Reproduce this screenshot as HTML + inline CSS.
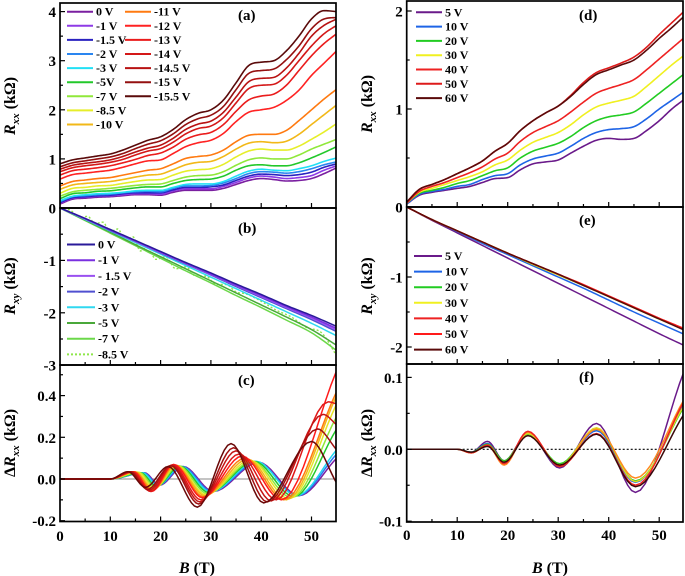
<!DOCTYPE html>
<html><head><meta charset="utf-8">
<style>
html,body{margin:0;padding:0;background:#fff;}
svg{display:block;font-family:"Liberation Serif",serif;font-weight:bold;}
</style></head>
<body>
<svg id="fig" width="685" height="576" viewBox="0 0 685 576" xmlns="http://www.w3.org/2000/svg"></svg>
<script>
// ---------- data ----------
const xTicks = [0,10,20,30,40,50];
const gridA = [0,2.5,5,7.5,10,12.5,15,17.5,20,22.5,25,27.5,30,32.5,35,37.5,40,42.5,45,47.5,50,52.5,55];
const gatesA = ["0 V","-1 V","-1.5 V","-2 V","-3 V","-5V","-7 V","-8.5 V","-10 V","-11 V","-12 V","-13 V","-14 V","-14.5 V","-15 V","-15.5 V"];
const colorsA = ["#7a1fa0","#8e3ae6","#2a22c0","#2a86f0","#22e0f5","#22c82a","#90e83a","#e6ee2a","#f2b818","#ff7a10","#ff2222","#ea1c1c","#d41818","#b81212","#941010","#5a0a0a"];
const rxxA_0 = [.08,.18,.20,.22,.23,.25,.27,.27,.26,.32,.36,.36,.36,.40,.48,.56,.60,.58,.55,.56,.60,.70,.82];
const rxxA_1 = [.10,.20,.22,.24,.25,.27,.29,.29,.28,.35,.39,.39,.39,.44,.52,.61,.65,.63,.60,.62,.66,.77,.86];
const rxxA_15 = [.11,.21,.23,.25,.26,.29,.31,.31,.31,.37,.42,.42,.43,.47,.56,.65,.69,.68,.66,.68,.73,.83,.90];
const rxxA_2 = [.13,.23,.25,.27,.28,.31,.33,.34,.33,.40,.45,.45,.46,.51,.60,.70,.74,.73,.71,.74,.80,.88,.94];
const rxxA_3 = [.15,.24,.27,.29,.30,.32,.35,.36,.36,.42,.48,.49,.49,.54,.65,.75,.79,.77,.76,.80,.86,.95,1.02];
const rxxA_5 = [.19,.29,.31,.34,.35,.38,.41,.43,.43,.50,.56,.58,.59,.65,.77,.86,.88,.86,.86,.92,1.02,1.13,1.25];
const rxxA_7 = [.24,.33,.36,.38,.40,.43,.46,.48,.49,.56,.63,.66,.67,.74,.87,.98,1.02,1.0,1.0,1.08,1.2,1.3,1.40];
const rxxA_85 = [.30,.40,.42,.45,.46,.50,.54,.57,.58,.67,.75,.78,.80,.89,1.04,1.16,1.2,1.18,1.18,1.26,1.4,1.55,1.72];
const rxxA_10 = [.38,.47,.50,.52,.54,.58,.63,.67,.69,.78,.88,.93,.95,1.05,1.2,1.32,1.35,1.33,1.36,1.5,1.7,1.9,2.1];
const rxxA_11 = [.45,.54,.57,.60,.62,.67,.72,.77,.80,.90,1.01,1.05,1.08,1.18,1.35,1.48,1.5,1.5,1.58,1.78,2.0,2.22,2.42];
const rxxA_12 = [.59,.68,.71,.74,.77,.83,.90,.96,.98,1.11,1.25,1.33,1.38,1.52,1.76,1.95,2.0,2.05,2.19,2.4,2.7,2.95,3.2];
const rxxA_13 = [.67,.76,.79,.82,.86,.92,.99,1.07,1.12,1.24,1.40,1.49,1.54,1.70,1.97,2.2,2.28,2.32,2.5,2.8,3.1,3.35,3.55];
const rxxA_14 = [.74,.82,.86,.89,.93,.99,1.08,1.16,1.21,1.34,1.51,1.62,1.67,1.84,2.14,2.43,2.50,2.52,2.7,3.0,3.3,3.55,3.72];
const rxxA_145 = [.79,.87,.91,.94,.98,1.05,1.14,1.22,1.28,1.42,1.60,1.71,1.77,1.95,2.26,2.57,2.64,2.66,2.85,3.15,3.5,3.72,3.85];
const rxxA_15v = [.84,.92,.96,1.00,1.04,1.11,1.21,1.30,1.37,1.51,1.70,1.82,1.89,2.07,2.41,2.74,2.80,2.83,3.02,3.3,3.65,3.85,3.88];
const rxxA_155 = [.90,.98,1.02,1.06,1.10,1.18,1.28,1.38,1.45,1.60,1.80,1.93,2.00,2.20,2.55,2.90,2.97,3.00,3.20,3.50,3.85,4.02,4.00];
const seriesA = [rxxA_0,rxxA_1,rxxA_15,rxxA_2,rxxA_3,rxxA_5,rxxA_7,rxxA_85,rxxA_10,rxxA_11,rxxA_12,rxxA_13,rxxA_14,rxxA_145,rxxA_15v,rxxA_155];

const gridB = [0,5,10,15,20,25,30,35,40,45,50,55];
const gatesB = ["0 V","-1 V","- 1.5 V","-2 V","-3 V","-5 V","-7 V","-8.5 V"];
const colorsB = ["#2a1a9a","#7a30e0","#9a50f0","#5050d0","#30d8f0","#4aa83a","#6cd84a","#8ee64a"];
const rxyB_0 = [0,-.2,-.41,-.62,-.83,-1.04,-1.24,-1.45,-1.65,-1.86,-2.05,-2.26];
const rxyB_1 = [0,-.2,-.42,-.63,-.84,-1.05,-1.26,-1.47,-1.67,-1.88,-2.08,-2.30];
const rxyB_15 = [0,-.21,-.42,-.64,-.85,-1.06,-1.27,-1.48,-1.69,-1.9,-2.1,-2.33];
const rxyB_2 = [0,-.21,-.43,-.64,-.86,-1.07,-1.28,-1.5,-1.71,-1.92,-2.13,-2.36];
const rxyB_3 = [0,-.22,-.44,-.66,-.88,-1.1,-1.32,-1.54,-1.76,-1.98,-2.2,-2.44];
const rxyB_5 = [0,-.23,-.46,-.7,-.93,-1.16,-1.39,-1.62,-1.85,-2.08,-2.32,-2.62];
const rxyB_7 = [0,-.24,-.48,-.72,-.96,-1.2,-1.43,-1.67,-1.9,-2.14,-2.38,-2.72];
const seriesB = [rxyB_0,rxyB_1,rxyB_15,rxyB_2,rxyB_3,rxyB_5,rxyB_7];
const gridB85 = [0,2,4,5.5,7,8.5,10,11.5,13,14.5,16,17.5,19,21,23,25,27,29,31,33,35,37,40,43,46,49,52,55];
const rxyB_85 = [0,-.04,-.18,-.16,-.3,-.27,-.45,-.4,-.62,-.55,-.82,-.74,-.98,-.93,-1.16,-1.12,-1.3,-1.3,-1.46,-1.46,-1.6,-1.64,-1.78,-1.95,-2.08,-2.28,-2.38,-2.82];

// panel (c): extremum points (B, value) per curve
const colorsC = ["#7a1fa0","#2a78f0","#22d8f0","#22c82a","#90e83a","#e6e62a","#f2b818","#ff7a10","#ff1a1a","#e01818","#c41414","#a01010","#6a0808"];
const dB_c0 = [0,10,16.8,19.8,24.5,30.5,39.5,47.5,55];
const dV_c0 = [0,0,.03,-.03,.06,-.06,.08,-.08,.10];
const dB_c1 = [0,10,16.6,19.6,24.3,30.2,39.2,47.2,55];
const dV_c1 = [0,0,.03,-.03,.06,-.06,.08,-.08,.12];
const dB_c2 = [0,10,16.4,19.4,24,30,39,47,55];
const dV_c2 = [0,0,.03,-.03,.06,-.062,.085,-.08,.14];
const dB_c3 = [0,10,16,19.2,23.8,29.6,38.6,46.5,55];
const dV_c3 = [0,0,.03,-.035,.062,-.065,.085,-.085,.24];
const dB_c4 = [0,10,15.7,19,23.5,29.3,38.2,46,55];
const dV_c4 = [0,0,.032,-.04,.064,-.07,.085,-.09,.30];
const dB_c5 = [0,10,15.4,18.8,23.2,29,37.8,45.5,55];
const dV_c5 = [0,0,.033,-.045,.065,-.075,.09,-.095,.36];
const dB_c6 = [0,10,15,18.6,23,28.8,37.3,45,55];
const dV_c6 = [0,0,.034,-.05,.066,-.08,.095,-.1,.40];
const dB_c7 = [0,10,14.8,18.4,22.8,28.5,36.8,44.5,55];
const dV_c7 = [0,0,.035,-.055,.068,-.085,.1,-.1,.42];
const dB_c8 = [0,10,14.6,18.2,22.6,28.3,36.2,44,55];
const dV_c8 = [0,0,.035,-.06,.07,-.09,.11,-.1,.52];
const dB_c9 = [0,10,14.3,18,22.4,28,35.6,43,53.3,55];
const dV_c9 = [0,0,.035,-.06,.068,-.1,.12,-.1,.37,.36];
const dB_c10 = [0,10,14.1,17.7,22.2,27.8,35,42,52.3,55];
const dV_c10 = [0,0,.035,-.055,.066,-.11,.135,-.105,.31,.26];
const dB_c11 = [0,10,13.9,17.4,22,27.6,34.5,41.2,51.2,55];
const dV_c11 = [0,0,.035,-.05,.064,-.12,.15,-.11,.24,.14];
const dB_c12 = [0,10,13.5,17,21.5,27.3,34,40.5,50,55];
const dV_c12 = [0,0,.035,-.04,.06,-.135,.17,-.115,.18,-.02];
const seriesCB = [dB_c0,dB_c1,dB_c2,dB_c3,dB_c4,dB_c5,dB_c6,dB_c7,dB_c8,dB_c9,dB_c10,dB_c11,dB_c12];
const seriesCV = [dV_c0,dV_c1,dV_c2,dV_c3,dV_c4,dV_c5,dV_c6,dV_c7,dV_c8,dV_c9,dV_c10,dV_c11,dV_c12];

// right side
const gatesD = ["5 V","10 V","20 V","30 V","40 V","50 V","60 V"];
const colorsD = ["#6a1a8a","#1e64e6","#22cc22","#f0f020","#ee2222","#dd1a1a","#5a0a0a"];
const rxxD_5 = [.03,.12,.15,.17,.19,.21,.25,.29,.30,.38,.44,.46,.48,.55,.62,.68,.70,.69,.70,.78,.88,1.0,1.1];
const rxxD_10 = [.03,.13,.16,.18,.21,.23,.28,.32,.34,.43,.49,.52,.55,.62,.70,.76,.79,.80,.82,.90,1.0,1.09,1.18];
const rxxD_20 = [.04,.14,.17,.20,.24,.27,.32,.37,.40,.50,.57,.61,.65,.72,.81,.88,.92,.94,.97,1.06,1.16,1.26,1.36];
const rxxD_30 = [.04,.15,.19,.23,.27,.31,.36,.43,.48,.58,.66,.71,.76,.84,.94,1.02,1.06,1.09,1.13,1.23,1.34,1.45,1.55];
const rxxD_40 = [.04,.16,.21,.25,.30,.35,.41,.49,.55,.67,.76,.82,.88,.97,1.07,1.16,1.21,1.25,1.30,1.40,1.51,1.62,1.73];
const rxxD_50 = [.05,.18,.23,.28,.34,.40,.47,.57,.65,.78,.88,.96,1.03,1.14,1.27,1.37,1.42,1.47,1.53,1.63,1.76,1.88,2.0];
const rxxD_60 = [.05,.18,.23,.28,.34,.40,.47,.57,.65,.78,.88,.96,1.03,1.13,1.25,1.35,1.40,1.45,1.50,1.60,1.72,1.83,1.95];
const seriesD = [rxxD_5,rxxD_10,rxxD_20,rxxD_30,rxxD_40,rxxD_50,rxxD_60];

const colorsE = ["#6a1a8a","#1e64e6","#22cc22","#f0f020","#ee2222","#ff1a1a","#5a0a0a"];
const rxyE_5 = [0,-.19,-.37,-.55,-.73,-.91,-1.09,-1.27,-1.45,-1.63,-1.81,-1.98];
const rxyE_10 = [0,-.18,-.35,-.52,-.68,-.84,-1.0,-1.16,-1.33,-1.5,-1.66,-1.82];
const rxyE_20 = [0,-.18,-.34,-.5,-.66,-.82,-.97,-1.12,-1.28,-1.44,-1.6,-1.75];
const rxyE_30 = [0,-.18,-.34,-.5,-.66,-.82,-.97,-1.12,-1.28,-1.44,-1.6,-1.75];
const rxyE_40 = [0,-.18,-.34,-.5,-.66,-.81,-.96,-1.11,-1.27,-1.43,-1.59,-1.74];
const rxyE_50 = [0,-.18,-.34,-.5,-.66,-.81,-.96,-1.11,-1.27,-1.43,-1.59,-1.74];
const rxyE_60 = [0,-.18,-.34,-.5,-.66,-.81,-.96,-1.12,-1.28,-1.44,-1.6,-1.76];
const seriesE = [rxyE_5,rxyE_10,rxyE_20,rxyE_30,rxyE_40,rxyE_50,rxyE_60];

const colorsF = ["#6a1a8a","#1e64e6","#22cc22","#e0d820","#ff8a20","#ee2222","#3a0808"];
const dB_f = [0,10,12.8,16,19.3,24,30.3,37.6,45.3,55];
const dV_f5 = [0,0,-.004,.011,-.016,.022,-.026,.036,-.06,.11];
const dV_f10 = [0,0,-.004,.008,-.017,.022,-.024,.026,-.046,.065];
const dV_f20 = [0,0,-.004,.007,-.016,.021,-.02,.028,-.044,.06];
const dV_f30 = [0,0,-.005,.006,-.018,.022,-.022,.03,-.045,.062];
const dV_f40 = [0,0,-.005,.005,-.022,.024,-.023,.028,-.04,.07];
const dV_f50 = [0,0,-.005,.006,-.02,.025,-.024,.022,-.05,.068];
const dV_f60 = [0,0,-.004,.004,-.018,.019,-.022,.021,-.052,.05];
const seriesF = [dV_f5,dV_f10,dV_f20,dV_f30,dV_f40,dV_f50,dV_f60];

// ---------- drawing ----------
const NS = "http://www.w3.org/2000/svg";
const svg = document.getElementById('fig');
function mk(tag, attrs, parent){ const e=document.createElementNS(NS,tag); for(const k in attrs) e.setAttribute(k,attrs[k]); (parent||svg).appendChild(e); return e; }

const xL = b => 60 + b*5.03;
const xR = b => 406.7 + b*5.05;
const yA = v => 208 - v*49.1;
const yB = v => 208 - v*52.4;
const yC = v => 479 - v*208.5;
const yD = v => 207 - v*98;
const yE = v => 207 - v*70;
const yF = v => 449.3 - v*719;

function monoPath(xs, ys, fx, fy){
  const n=xs.length, m=[], d=[];
  for(let i=0;i<n-1;i++) d.push((ys[i+1]-ys[i])/(xs[i+1]-xs[i]));
  m[0]=d[0]; m[n-1]=d[n-2];
  for(let i=1;i<n-1;i++){ m[i]=(d[i-1]*d[i]<=0)?0:(d[i-1]+d[i])/2; }
  for(let i=0;i<n-1;i++){ if(d[i]===0){m[i]=0;m[i+1]=0;continue;} const a=m[i]/d[i], b=m[i+1]/d[i], s=a*a+b*b; if(s>9){const t=3/Math.sqrt(s); m[i]=t*a*d[i]; m[i+1]=t*b*d[i];} }
  let p="M"+fx(xs[0]).toFixed(2)+","+fy(ys[0]).toFixed(2);
  for(let i=0;i<n-1;i++){ const h=xs[i+1]-xs[i];
    for(let k=1;k<=10;k++){ const t=k/10,t2=t*t,t3=t2*t;
      const v=(2*t3-3*t2+1)*ys[i]+(t3-2*t2+t)*h*m[i]+(-2*t3+3*t2)*ys[i+1]+(t3-t2)*h*m[i+1];
      p+="L"+fx(xs[i]+t*h).toFixed(2)+","+fy(v).toFixed(2);} }
  return p;
}

const defs = mk('defs',{});
function clip(id,x,y,w,h){ const c=mk('clipPath',{id:id},defs); mk('rect',{x:x,y:y,width:w,height:h},c); }
clip('cA',60,3,276,205); clip('cB',60,208,276,157); clip('cC',60,365,276,157);
clip('cD',406.7,1,276.3,206); clip('cE',406.7,207,276.3,157); clip('cF',406.7,364,276.3,158);

function group(name, cl){ const g=mk('g',{'clip-path':'url(#'+cl+')'});   return g; }

// (a)
let g = group('panel-a-curves','cA');
seriesA.forEach((s,i)=>{ const p=mk('path',{d:monoPath(gridA,s,xL,yA),fill:'none',stroke:colorsA[i],'stroke-width':1.6},g);
  
   });
// (b)
g = group('panel-b-curves','cB');
{ const p=mk('path',{d:monoPath(gridB85,rxyB_85,xL,yB),fill:'none',stroke:colorsB[7],'stroke-width':1.4,'stroke-dasharray':'2,2'},g);
  
   }
seriesB.slice().reverse().forEach((s,j)=>{ const i=seriesB.length-1-j; const p=mk('path',{d:monoPath(gridB,s,xL,yB),fill:'none',stroke:colorsB[i],'stroke-width':1.5},g);
  
   });
// (c)
g = group('panel-c-curves','cC');
{ const z=mk('line',{x1:60,x2:336,y1:yC(0),y2:yC(0),stroke:'#888','stroke-width':1},g);
  
   }
seriesCV.forEach((s,i)=>{ const p=mk('path',{d:monoPath(seriesCB[i],s,xL,yC),fill:'none',stroke:colorsC[i],'stroke-width':1.5},g);
  
   });
// (d)
g = group('panel-d-curves','cD');
seriesD.forEach((s,i)=>{ const p=mk('path',{d:monoPath(gridA,s,xR,yD),fill:'none',stroke:colorsD[i],'stroke-width':1.6},g);
  
   });
// (e)
g = group('panel-e-curves','cE');
seriesE.forEach((s,i)=>{ const p=mk('path',{d:monoPath(gridB,s,xR,yE),fill:'none',stroke:colorsE[i],'stroke-width':1.5},g);
  
   });
// (f)
g = group('panel-f-curves','cF');
{ const z=mk('line',{x1:406.7,x2:683,y1:yF(0),y2:yF(0),stroke:'#000','stroke-width':1.2,'stroke-dasharray':'2,2'},g);
  
   }
seriesF.forEach((s,i)=>{ const p=mk('path',{d:monoPath(dB_f,s,xR,yF),fill:'none',stroke:colorsF[i],'stroke-width':1.5},g);
  
   });

// axes
function frame(x0,x1,y0,y1,name){ const r=mk('rect',{x:x0,y:y0,width:x1-x0,height:y1-y0,fill:'none',stroke:'#000','stroke-width':1.7});
  
   }
frame(60,336,3,208,'panel-a-frame'); frame(60,336,208,365,'panel-b-frame'); frame(60,336,365,521.5,'panel-c-frame');
frame(406.7,683,1,207,'panel-d-frame'); frame(406.7,683,207,364,'panel-e-frame'); frame(406.7,683,364,522,'panel-f-frame');

function xticks(fx, ybot){ for(let b=5;b<55;b+=5){ const L=(b%10===0)?5:3; const x=fx(b);
  mk('line',{x1:x,x2:x,y1:ybot,y2:ybot-L,stroke:'#000','stroke-width':1.2}); } }
[208,365,521.5].forEach(y=>xticks(xL,y)); [207,364,522].forEach(y=>xticks(xR,y));

function text(str,x,y,size,anchor,name,extra){ const t=mk('text',Object.assign({x:x,y:y,'font-size':size,'text-anchor':anchor||'start',fill:'#000'},extra||{}));
  t.textContent=str;
  
   return t; }

function yaxis(x0, fy, majors, labels, minors, name){
  majors.forEach((v,i)=>{ const y=fy(v); mk('line',{x1:x0,x2:x0+5,y1:y,y2:y,stroke:'#000','stroke-width':1.2});
    if(labels[i]!==null) text(labels[i],x0-4,y+5.5,15,'end',name+'-tick-label'); });
  minors.forEach(v=>{ const y=fy(v); mk('line',{x1:x0,x2:x0+3,y1:y,y2:y,stroke:'#000','stroke-width':1.2}); });
}
const ticksA=[0,1,2,3,4], labA=["0","1","2","3","4"];
const ticksB=[-1,-2,-3], labB=["-1","-2","-3"];
const ticksC=[-0.2,0,0.2,0.4], labC=["-0.2","0.0","0.2","0.4"];
const ticksD=[0,1,2], labD=["0","1","2"];
const ticksE=[-1,-2], labE=["-1","-2"];
const ticksF=[-0.1,0,0.1], labF=["-0.1","0.0","0.1"];
yaxis(60,yA,ticksA,labA,[.5,1.5,2.5,3.5],'a');
yaxis(60,yB,ticksB,labB,[-.5,-1.5,-2.5],'b');
yaxis(60,yC,ticksC,labC,[-.1,.1,.3,.5],'c');
yaxis(406.7,yD,ticksD,labD,[.5,1.5],'d');
yaxis(406.7,yE,ticksE,labE,[-.5,-1.5],'e');
yaxis(406.7,yF,ticksF,labF,[-.05,.05],'f');

xTicks.forEach(b=>{ text(String(b),xL(b),541,15,'middle','x-tick-label-left'); text(String(b),xR(b),540,15,'middle','x-tick-label-right'); });

function btitle(x,y,name){ const t=mk('text',{x:x,y:y,'font-size':16,'text-anchor':'middle'}); t.innerHTML='<tspan font-style="italic">B</tspan> (T)';
  
   }
btitle(197,573,'x-axis-title-left'); btitle(550,573,'x-axis-title-right');

function ytitle(x,y,sub,name,delta){ const t=mk('text',{x:0,y:0,'font-size':16,'text-anchor':'middle',transform:'translate('+x+','+y+') rotate(-90)'});
  t.innerHTML=(delta?'Δ':'')+'<tspan font-style="italic">R</tspan><tspan font-size="11" dy="4" font-style="italic">'+sub+'</tspan><tspan dy="-4"> (kΩ)</tspan>';
  
   }
ytitle(15,106,'xx','y-axis-title-a'); ytitle(15,286,'xy','y-axis-title-b'); ytitle(15,443,'xx','y-axis-title-c',true);
ytitle(372,104,'xx','y-axis-title-d'); ytitle(372,286,'xy','y-axis-title-e'); ytitle(372,443,'xx','y-axis-title-f',true);

text('(a)',238,20,15,'start','panel-label-a'); text('(b)',238,233,15,'start','panel-label-b'); text('(c)',238,385,15,'start','panel-label-c');
text('(d)',579,20,15,'start','panel-label-d'); text('(e)',579,225,15,'start','panel-label-e'); text('(f)',579,382,15,'start','panel-label-f');

// legends
function legendEntry(x0,x1,y,color,label,dash,name){ const l=mk('line',{x1:x0,x2:x1,y1:y,y2:y,stroke:color,'stroke-width':2});
  if(dash) l.setAttribute('stroke-dasharray','2,2');
  
  
  text(label,x1+3,y+4,12,'start',name); }
gatesA.forEach((gl,i)=>{ if(i<9) legendEntry(67,93,11.7+i*14.1,colorsA[i],gl,false,'legend-entry-a');
  else legendEntry(125,151,11.7+(i-9)*14.1,colorsA[i],gl,false,'legend-entry-a'); });
gatesB.forEach((gl,i)=>{ legendEntry(67,95,244.5+i*15.7,colorsB[i],gl,i===7,'legend-entry-b'); });
gatesD.forEach((gl,i)=>{ legendEntry(416,442,12.3+i*14.3,colorsD[i],gl,false,'legend-entry-d'); });
gatesD.forEach((gl,i)=>{ legendEntry(414,442,256+i*15.6,colorsE[i],gl,false,'legend-entry-e'); });
</script>
</body></html>
